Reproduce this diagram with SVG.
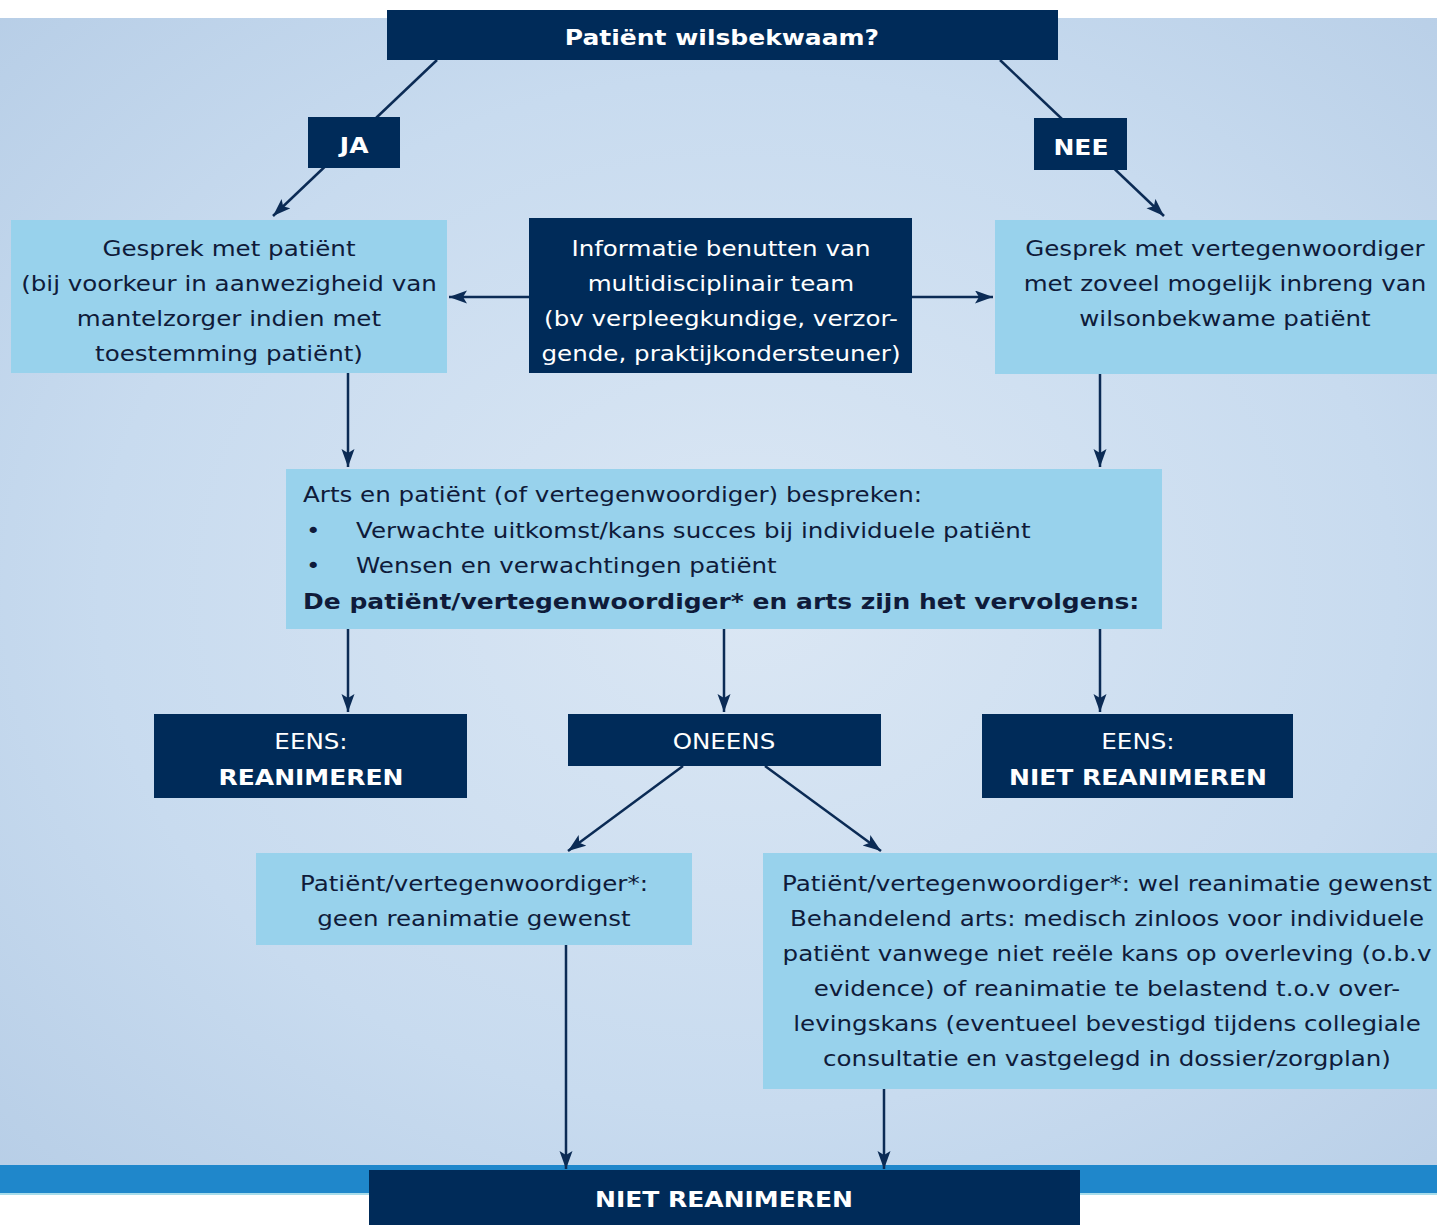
<svg xmlns="http://www.w3.org/2000/svg" width="1437" height="1225" viewBox="0 0 1437 1225">
  <defs>
    <radialGradient id="bg" cx="0.52" cy="0.5" r="0.75">
      <stop offset="0" stop-color="#dbe7f4"/>
      <stop offset="0.6" stop-color="#c8dbef"/>
      <stop offset="1" stop-color="#b6cde6"/>
    </radialGradient>
    <marker id="arr" markerUnits="userSpaceOnUse" markerWidth="20" markerHeight="14" refX="18" refY="6.5" orient="auto" viewBox="0 0 20 14">
      <path d="M0,0 L18,6.5 L0,13 L4,6.5 Z" fill="#0b2b55"/>
    </marker>
  </defs>
  <style>
    .dk { fill: #002b59; }
    .lt { fill: #98d2ec; }
    .c { stroke: #0b2b55; stroke-width: 2.5; fill: none; marker-end: url(#arr); }
    .t { font-family: "DejaVu Sans", Verdana, sans-serif; font-size: 21px; text-anchor: middle; transform-box: fill-box; transform-origin: center; transform: scaleX(1.17); }
    .l { text-anchor: start; transform-origin: left center; }
    .w { fill: #ffffff; }
    .k { fill: #0f1b3a; }
    .b { font-weight: bold; transform: scaleX(1.19); }
  </style>

  <g id="background">
    <rect x="0" y="0" width="1437" height="1225" fill="#ffffff"/>
    <rect x="0" y="18" width="1437" height="1150" fill="url(#bg)"/>
    <rect x="0" y="1165" width="1437" height="28" fill="#1f87cb"/>
    <rect x="0" y="1193" width="1437" height="2" fill="#a8dcea"/>
  </g>

  <g id="connectors">
    <line class="c" x1="437" y1="60" x2="273" y2="216"/>
    <line class="c" x1="1000" y1="60" x2="1164" y2="216"/>
    <line class="c" x1="529" y1="297" x2="449" y2="297"/>
    <line class="c" x1="912" y1="297" x2="993" y2="297"/>
    <line class="c" x1="348" y1="373" x2="348" y2="467"/>
    <line class="c" x1="1100" y1="374" x2="1100" y2="467"/>
    <line class="c" x1="348" y1="629" x2="348" y2="712"/>
    <line class="c" x1="724" y1="629" x2="724" y2="712"/>
    <line class="c" x1="1100" y1="629" x2="1100" y2="712"/>
    <line class="c" x1="683" y1="766" x2="568" y2="851"/>
    <line class="c" x1="765" y1="766" x2="881" y2="851"/>
    <line class="c" x1="566" y1="945" x2="566" y2="1169"/>
    <line class="c" x1="884" y1="1089" x2="884" y2="1169"/>
  </g>

  <g id="n-wilsbekwaam">
    <rect class="dk" x="387" y="10" width="671" height="50"/>
    <text class="t w b" x="722" y="45">Patiënt wilsbekwaam?</text>
  </g>
  <g id="n-ja">
    <rect class="dk" x="308" y="117" width="92" height="51"/>
    <text class="t w b" x="354" y="153">JA</text>
  </g>
  <g id="n-nee">
    <rect class="dk" x="1034" y="118" width="93" height="52"/>
    <text class="t w b" x="1081" y="155">NEE</text>
  </g>
  <g id="n-gesprek-patient">
    <rect class="lt" x="11" y="220" width="436" height="153"/>
    <text class="t k" x="229" y="256">Gesprek met patiënt</text>
    <text class="t k" x="229" y="291">(bij voorkeur in aanwezigheid van</text>
    <text class="t k" x="229" y="326">mantelzorger indien met</text>
    <text class="t k" x="229" y="361">toestemming patiënt)</text>
  </g>
  <g id="n-informatie">
    <rect class="dk" x="529" y="218" width="383" height="155"/>
    <text class="t w" x="721" y="256">Informatie benutten van</text>
    <text class="t w" x="721" y="291">multidisciplinair team</text>
    <text class="t w" x="721" y="326">(bv verpleegkundige, verzor-</text>
    <text class="t w" x="721" y="361">gende, praktijkondersteuner)</text>
  </g>
  <g id="n-gesprek-vertegenwoordiger">
    <rect class="lt" x="995" y="220" width="442" height="154"/>
    <text class="t k" x="1225" y="256">Gesprek met vertegenwoordiger</text>
    <text class="t k" x="1225" y="291">met zoveel mogelijk inbreng van</text>
    <text class="t k" x="1225" y="326">wilsonbekwame patiënt</text>
  </g>
  <g id="n-bespreken">
    <rect class="lt" x="286" y="469" width="876" height="160"/>
    <text class="t l k" x="303" y="502">Arts en patiënt (of vertegenwoordiger) bespreken:</text>
    <text class="t l k" x="306" y="538">•</text>
    <text class="t l k" x="356" y="538">Verwachte uitkomst/kans succes bij individuele patiënt</text>
    <text class="t l k" x="306" y="573">•</text>
    <text class="t l k" x="356" y="573">Wensen en verwachtingen patiënt</text>
    <text class="t l k b" x="303" y="609">De patiënt/vertegenwoordiger* en arts zijn het vervolgens:</text>
  </g>
  <g id="n-eens-reanimeren">
    <rect class="dk" x="154" y="714" width="313" height="84"/>
    <text class="t w" x="311" y="749">EENS:</text>
    <text class="t w b" x="311" y="785">REANIMEREN</text>
  </g>
  <g id="n-oneens">
    <rect class="dk" x="568" y="714" width="313" height="52"/>
    <text class="t w" x="724" y="749">ONEENS</text>
  </g>
  <g id="n-eens-niet-reanimeren">
    <rect class="dk" x="982" y="714" width="311" height="84"/>
    <text class="t w" x="1138" y="749">EENS:</text>
    <text class="t w b" x="1138" y="785">NIET REANIMEREN</text>
  </g>
  <g id="n-geen-reanimatie">
    <rect class="lt" x="256" y="853" width="436" height="92"/>
    <text class="t k" x="474" y="891">Patiënt/vertegenwoordiger*:</text>
    <text class="t k" x="474" y="926">geen reanimatie gewenst</text>
  </g>
  <g id="n-wel-reanimatie">
    <rect class="lt" x="763" y="853" width="674" height="236"/>
    <text class="t k" x="1107" y="891">Patiënt/vertegenwoordiger*: wel reanimatie gewenst</text>
    <text class="t k" x="1107" y="926">Behandelend arts: medisch zinloos voor individuele</text>
    <text class="t k" x="1107" y="961">patiënt vanwege niet reële kans op overleving (o.b.v</text>
    <text class="t k" x="1107" y="996">evidence) of reanimatie te belastend t.o.v over-</text>
    <text class="t k" x="1107" y="1031">levingskans (eventueel bevestigd tijdens collegiale</text>
    <text class="t k" x="1107" y="1066">consultatie en vastgelegd in dossier/zorgplan)</text>
  </g>
  <g id="n-niet-reanimeren">
    <rect class="dk" x="369" y="1170" width="711" height="55"/>
    <text class="t w b" x="724" y="1207">NIET REANIMEREN</text>
  </g>
</svg>
